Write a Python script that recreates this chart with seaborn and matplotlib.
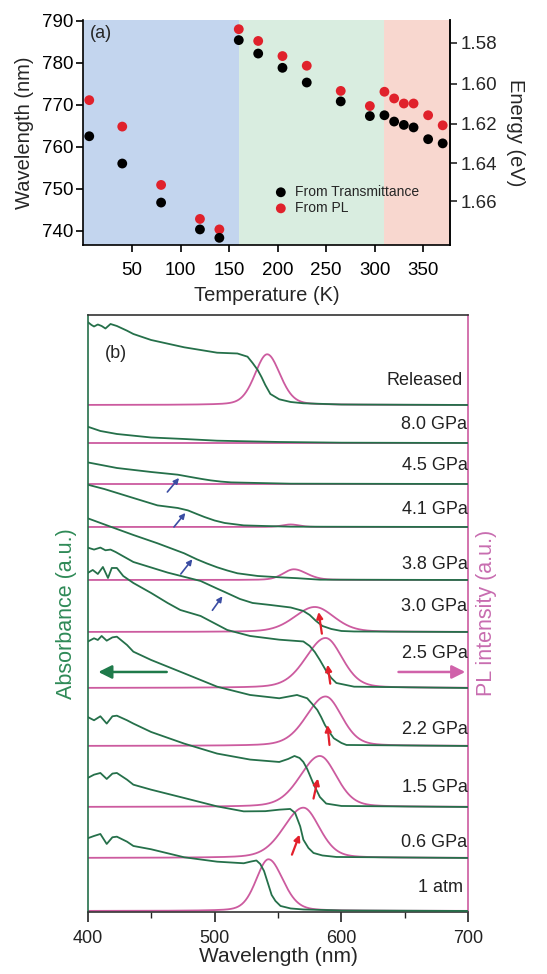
import matplotlib
matplotlib.use("Agg")
import matplotlib.pyplot as plt
import numpy as np
import pandas as pd
import seaborn as sns

# ---------------- panel (a): band edge vs temperature ----------------
temperature = [6, 40, 80, 120, 140, 160, 180, 205, 230, 265, 295, 310, 320, 330, 340, 355, 370]
wl_transmittance = [762.5, 756.0, 746.7, 740.3, 738.3, 785.4, 782.2, 778.8, 775.3, 770.8,
                    767.3, 767.5, 766.0, 765.2, 764.6, 761.8, 760.8]
wl_pl = [771.1, 764.8, 750.9, 742.8, 740.3, 788.0, 785.2, 781.6, 779.3, 773.3,
         769.7, 773.1, 771.5, 770.3, 770.3, 767.5, 765.1]
phase_edges = [0, 160, 310, 378]
phase_colors = ["#c3d5ee", "#d9ede0", "#f8d7cf"]
energy_ticks = [1.58, 1.60, 1.62, 1.64, 1.66]

# ---------------- panel (b): spectra under pressure ----------------
pressures = ["1 atm", "0.6 GPa", "1.5 GPa", "2.2 GPa", "2.5 GPa", "3.0 GPa",
             "3.8 GPa", "4.1 GPa", "4.5 GPa", "8.0 GPa", "Released"]
offsets = [0, 53, 104, 165, 223, 279, 331, 384, 427, 468, 506]

# absorbance (wavelength nm, height a.u.)
abs_1atm_wl = [400, 405, 410, 415, 419.5, 423, 431, 436, 450, 476, 502, 523, 529, 533, 536,
               539, 542, 545, 548, 552, 560, 570, 600, 700]
abs_1atm = [72.7, 75, 77, 67, 73.7, 74.3, 69.3, 65, 61.7, 53.7, 49.3, 47.7, 49.5, 50.5, 47,
            40, 28, 16, 10, 5, 2.5, 1.5, 0.5, 0]
abs_06_wl = [400, 405, 410, 415, 419.5, 423, 431, 436, 450, 476, 502, 523, 540, 551, 559.6,
             563.5, 567.5, 570, 574, 578, 585, 596, 700]
abs_06 = [80, 83.3, 85, 79, 84.4, 85, 78.3, 73.3, 68.3, 60, 51.6, 46.6, 46.8, 48.3, 49,
          45, 31.6, 18.3, 10, 5, 2.5, 1, 0]
abs_15_wl = [400, 405, 410, 415, 419.5, 423, 431, 436, 450, 476, 502, 528, 551, 558, 563,
             567, 570, 573, 578, 583, 588, 600, 700]
abs_15 = [90, 86.7, 90.7, 83.4, 90.7, 91.3, 86.7, 83.4, 75, 63.4, 53.4, 47.4, 45, 48, 51,
          49, 45, 38, 23, 10, 3.4, 1, 0]
abs_22_wl = [400, 405, 408, 411, 415, 419.5, 423, 431, 436, 450, 476, 502, 528, 551, 565,
             573, 577, 581, 584, 587, 591, 594, 600, 604, 700]
abs_22 = [104.3, 107.7, 106, 110, 105.3, 108.6, 109.3, 101, 94.3, 86, 72.7, 59.3, 51, 47.7, 51,
          47.7, 42, 36, 29, 21, 13, 7.7, 3, 1, 0]
abs_25_wl = [400, 404, 408, 412, 416, 419, 423, 428, 436, 450, 463, 473, 489, 510, 528, 551,
             570, 575, 579, 583, 588, 592, 596, 610, 700]
abs_25 = [115, 118, 114, 121, 110, 120, 120, 112, 105, 95, 85, 78, 72, 58, 52, 48.3,
          46.5, 42, 36, 28, 17, 10, 5, 1.3, 0]
abs_30_wl = [400, 405, 410, 414, 418, 422, 436, 463, 489, 502, 508, 520, 530, 544, 560, 570,
             575, 580, 585, 592, 600, 610, 700]
abs_30 = [84.4, 82.4, 84.4, 81.7, 82.4, 80, 70, 59.4, 51, 43.4, 40, 33, 29, 27, 24.5, 21,
          17, 11, 6, 3, 1, 0.5, 0]
abs_38_wl = [400, 418, 436, 455, 476, 486, 494, 502, 510, 518, 534, 551, 565, 583, 700]
abs_38 = [61.7, 53.3, 45, 36.7, 26.7, 20.7, 16.5, 12.7, 9.5, 6.7, 4, 2.7, 1.8, 0.3, 0]
abs_41_wl = [400, 413, 436, 455, 471, 479, 486, 492, 500, 508, 523, 539, 560, 700]
abs_41 = [42.3, 38, 29, 21.6, 19, 16.6, 13, 10, 6.5, 4, 1.6, 1, 0.3, 0]
abs_45_wl = [400, 423, 450, 471, 481, 490, 497, 505, 513, 534, 560, 700]
abs_45 = [21.6, 16, 12, 9.3, 7, 5, 3.6, 2.4, 1.6, 1, 0.3, 0]
abs_80_wl = [400, 410, 423, 450, 476, 502, 551, 600, 700]
abs_80 = [16.3, 12, 9, 5.5, 4, 2.3, 1, 0.3, 0]
abs_rel_wl = [400, 403, 405, 408, 411, 414, 418, 423, 431, 436, 450, 476, 502, 518, 526, 530,
              534, 537, 540, 544, 551, 560, 570, 600, 700]
abs_rel = [83, 80, 78.5, 80.5, 79, 76.5, 81, 79, 74.3, 71, 65, 57.7, 52.3, 51.5, 48.3, 42,
           35, 28, 20, 11, 5.7, 3, 1.7, 0.5, 0]

abs_wl = [abs_1atm_wl, abs_06_wl, abs_15_wl, abs_22_wl, abs_25_wl, abs_30_wl,
          abs_38_wl, abs_41_wl, abs_45_wl, abs_80_wl, abs_rel_wl]
abs_val = [abs_1atm, abs_06, abs_15, abs_22, abs_25, abs_30,
           abs_38, abs_41, abs_45, abs_80, abs_rel]

# PL peaks: centre, height, half widths (left / right)
pl_center = [542.5, 570, 583, 587.5, 587.5, 579, 562.5, 560, 560, 560, 541.5]
pl_height = [51.7, 50.3, 51, 49.5, 50, 25, 10.7, 2.5, 0, 0, 50.7]
pl_hw_left = [11.5, 18.5, 18.5, 18, 18.5, 19, 10, 8, 8, 8, 11.5]
pl_hw_right = [13.5, 15, 15.5, 15, 15.5, 18, 12, 8, 8, 8, 12]

# annotation placement (layout only)
label_height = [23, 15, 19, 16, 34, 25, 15, 17, 18, 18, 24]
blue_arrows = [(8, 462.8, -8, 472, 6), (7, 468, 0, 477, 14),
               (6, 473.4, 6, 482.5, 20.7), (5, 498.3, 21.7, 506.2, 35.7)]
red_arrows = [(5, 584.6, -1.7, 582, 20), (4, 591.2, 4.3, 589.1, 23.3),
              (3, 590.6, 1, 589, 21), (2, 578, 8.4, 581.5, 28.4),
              (1, 561, 3.3, 567, 23.3)]

GREEN = "#25704a"
GREEN_TXT = "#2f8a57"
PINK = "#cc5b9f"
PINK_TXT = "#c86db0"


def pl_shape(x, c, h, wl, wr, eta=0.25):
    w = np.where(x < c, wl, wr)
    d = (x - c) / w
    return h * ((1 - eta) * np.exp(-np.log(2) * d ** 2) + eta / (1 + d ** 2))


sns.set_theme(style="ticks")
plt.rcParams["font.family"] = ["Liberation Sans", "DejaVu Sans"]
plt.rcParams["axes.linewidth"] = 1.2

fig = plt.figure(figsize=(5.47, 9.74), dpi=100)
ax_a = fig.add_axes([0.1525, 0.7485, 0.6710, 0.2310])
ax_b = fig.add_axes([0.1603, 0.0640, 0.6958, 0.6126])

# ---- (a)
for lo, hi, col in zip(phase_edges[:-1], phase_edges[1:], phase_colors):
    ax_a.axvspan(lo, hi, color=col, lw=0, zorder=0)

df_a = pd.DataFrame({"T": temperature, "trans": wl_transmittance, "pl": wl_pl})
sns.scatterplot(data=df_a, x="T", y="pl", color="#e0212b", s=50, edgecolor="none",
                ax=ax_a, label="From PL", zorder=3)
sns.scatterplot(data=df_a, x="T", y="trans", color="black", s=50, edgecolor="none",
                ax=ax_a, label="From Transmittance", zorder=4)
handles, labels = ax_a.get_legend_handles_labels()
ax_a.legend(handles[::-1], labels[::-1], loc="center left", bbox_to_anchor=(0.5, 0.2),
            frameon=False, fontsize=10, handletextpad=0.4, labelspacing=0.15,
            borderaxespad=0, handlelength=1.2)

ax_a.set_xlim(0, 378)
ax_a.set_ylim(736.6, 790.2)
ax_a.set_xticks([50, 100, 150, 200, 250, 300, 350])
ax_a.set_yticks([740, 750, 760, 770, 780, 790])
ax_a.spines["top"].set_visible(False)
for s in ["left", "right", "bottom"]:
    ax_a.spines[s].set_color("black")
ax_a.tick_params(direction="out", length=5, width=1.2, labelsize=13.5, pad=2, colors="black")
ax_a.tick_params(axis="x", pad=7)
ax_a.set_xlabel("Temperature (K)", fontsize=14.5, labelpad=5)
ax_a.set_ylabel("Wavelength (nm)", fontsize=14.5, labelpad=6)
ax_a.text(0.017, 0.94, "(a)", transform=ax_a.transAxes, fontsize=13, va="center")

sec = ax_a.secondary_yaxis("right", functions=(lambda w: 1240.0 / w, lambda e: 1240.0 / e))
sec.set_yticks(energy_ticks)
sec.set_yticklabels([f"{v:.2f}" for v in energy_ticks])
sec.tick_params(direction="out", length=5, width=1.2, labelsize=13.5, pad=2)
sec.spines["right"].set_linewidth(1.2)
sec.set_ylabel("Energy (eV)", fontsize=14.5, rotation=270, labelpad=20)

# ---- (b)
x_pl = np.linspace(400, 700, 601)
for i, name in enumerate(pressures):
    base = offsets[i]
    y_pl = base + pl_shape(x_pl, pl_center[i], pl_height[i], pl_hw_left[i], pl_hw_right[i])
    sns.lineplot(x=x_pl, y=y_pl, color=PINK, lw=1.3, ax=ax_b, sort=False,
                 estimator=None, zorder=2)
    y_abs = base + np.array(abs_val[i])
    sns.lineplot(x=abs_wl[i], y=y_abs, color=GREEN, lw=1.3, ax=ax_b, sort=False,
                 estimator=None, zorder=3)
    right = 695.5 if name in ("Released", "1 atm") else 699.3
    ax_b.text(right, base + label_height[i], name, ha="right", va="center",
              fontsize=13, color="#222222", zorder=5)

for i, x0, y0, x1, y1 in blue_arrows:
    ax_b.annotate("", xy=(x1, offsets[i] + y1), xytext=(x0, offsets[i] + y0),
                  arrowprops=dict(arrowstyle="-|>", color="#3b4da3", lw=1.2,
                                  mutation_scale=8, shrinkA=0, shrinkB=0), zorder=6)
for i, x0, y0, x1, y1 in red_arrows:
    ax_b.annotate("", xy=(x1, offsets[i] + y1), xytext=(x0, offsets[i] + y0),
                  arrowprops=dict(arrowstyle="-|>", color="#e3202c", lw=1.6,
                                  mutation_scale=9, shrinkA=0, shrinkB=0), zorder=6)

ax_b.annotate("", xy=(408.4, 239), xytext=(462.3, 239),
              arrowprops=dict(arrowstyle="-|>", color="#1f7a4a", lw=1.8,
                              mutation_scale=20, shrinkA=0, shrinkB=0))
ax_b.annotate("", xy=(697.6, 239), xytext=(645, 239),
              arrowprops=dict(arrowstyle="-|>", color="#d062aa", lw=1.8,
                              mutation_scale=20, shrinkA=0, shrinkB=0))

ax_b.set_xlim(400, 700)
ax_b.set_ylim(-0.7, 596)
ax_b.set_yticks([])
ax_b.set_xticks([400, 500, 600, 700])
ax_b.set_xticks([450, 550, 650], minor=True)
ax_b.tick_params(axis="x", which="major", direction="out", length=7, width=1.2,
                 labelsize=13, pad=6, colors="#222222")
ax_b.tick_params(axis="x", which="minor", direction="out", length=4, width=1.0,
                 colors="#222222", bottom=True)
ax_b.spines["left"].set_color(GREEN)
ax_b.spines["right"].set_color(PINK)
ax_b.spines["top"].set_color("#333333")
ax_b.spines["bottom"].set_color("#333333")
ax_b.set_xlabel("Wavelength (nm)", fontsize=15, labelpad=0)
ax_b.set_ylabel("Absorbance (a.u.)", fontsize=15.5, color=GREEN_TXT, labelpad=8)
ax_b.text(1.047, 0.5, "PL intensity (a.u.)", transform=ax_b.transAxes, rotation=90,
          fontsize=15.5, color=PINK_TXT, ha="center", va="center")
ax_b.text(0.045, 0.935, "(b)", transform=ax_b.transAxes, fontsize=13, va="center")

fig.savefig("out.png", dpi=100)
